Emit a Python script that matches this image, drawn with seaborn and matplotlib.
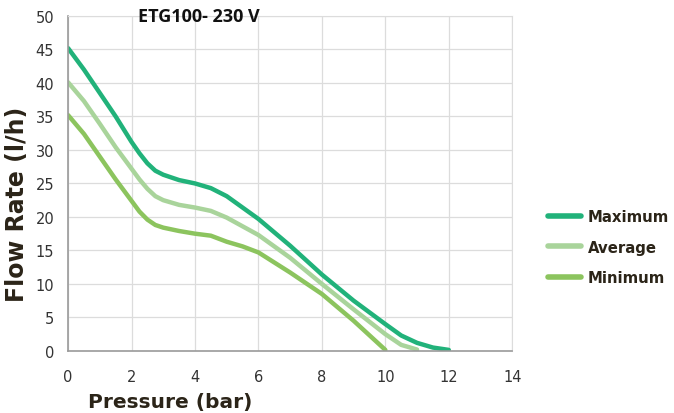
import pandas as pd
import numpy as np
import matplotlib.pyplot as plt
import seaborn as sns

# curve readings from the chart (pressure in bar, flow in l/h)
max_p = [0, 0.5, 1, 1.5, 2, 2.25, 2.5, 2.75, 3, 3.5, 4, 4.5, 5, 5.5, 6,
         7, 8, 9, 10, 10.5, 11, 11.5, 12]
max_q = [45.2, 42.0, 38.5, 35.0, 31.2, 29.5, 28.0, 26.9, 26.3, 25.5, 25.0, 24.3, 23.1, 21.4, 19.7,
         15.7, 11.4, 7.5, 4.0, 2.3, 1.2, 0.5, 0.15]

avg_p = [0, 0.5, 1, 1.5, 2, 2.25, 2.5, 2.75, 3, 3.5, 4, 4.5, 5, 5.5, 6,
         7, 8, 9, 10, 10.5, 11]
avg_q = [40.1, 37.3, 33.9, 30.4, 27.2, 25.6, 24.2, 23.1, 22.5, 21.8, 21.4, 20.9, 19.9, 18.6, 17.3,
         13.9, 10.0, 6.2, 2.5, 0.9, 0.2]

min_p = [0, 0.5, 1, 1.5, 2, 2.25, 2.5, 2.75, 3, 3.5, 4, 4.5, 5, 5.5, 6,
         7, 8, 9, 10]
min_q = [35.2, 32.4, 29.0, 25.6, 22.4, 20.8, 19.6, 18.8, 18.4, 17.9, 17.5, 17.2, 16.3, 15.6, 14.7,
         11.7, 8.5, 4.5, 0.15]

series = ['Maximum', 'Average', 'Minimum']
colors = ['#21b27a', '#a9d49b', '#8cc45e']
x_ticks = [0, 2, 4, 6, 8, 10, 12, 14]
y_ticks = [0, 5, 10, 15, 20, 25, 30, 35, 40, 45, 50]

df = pd.concat([
    pd.DataFrame({'p': max_p, 'q': max_q, 'curve': 'Maximum'}),
    pd.DataFrame({'p': avg_p, 'q': avg_q, 'curve': 'Average'}),
    pd.DataFrame({'p': min_p, 'q': min_q, 'curve': 'Minimum'}),
])

sns.set_style('white')
fig = plt.figure(figsize=(6.74, 4.14), dpi=100)
ax = fig.add_axes([0.101, 0.15, 0.659, 0.809])

sns.lineplot(data=df, x='p', y='q', hue='curve', hue_order=series,
             palette=colors, linewidth=3.2, ax=ax, legend=True,
             solid_capstyle='round', solid_joinstyle='round')

ax.set_xlim(0, 14)
ax.set_ylim(0, 50)
ax.set_xticks(x_ticks)
ax.set_yticks(y_ticks)
ax.grid(True, color='#dcdcdc', linewidth=0.9)
ax.set_axisbelow(True)
for s in ['top', 'right']:
    ax.spines[s].set_color('#dcdcdc')
for s in ['left', 'bottom']:
    ax.spines[s].set_color('#9a9a9a')
    ax.spines[s].set_linewidth(1.2)

ax.tick_params(axis='x', length=0, pad=13, labelsize=10.5, labelcolor='#333333')
ax.tick_params(axis='y', length=0, pad=10, labelsize=10.5, labelcolor='#333333')

ax.set_xlabel('Pressure (bar)', fontsize=14.5, fontweight='heavy', color='#2b2418')
ax.set_ylabel('Flow Rate (l/h)', fontsize=17, fontweight='heavy', color='#2b2418')
ax.xaxis.label.set_va('center')
ax.yaxis.label.set_va('center')
ax.xaxis.set_label_coords(0.23, -0.15)
ax.yaxis.set_label_coords(-0.115, 0.44)

fig.text(0.205, 0.958, 'ETG100- 230 V', fontsize=13, fontweight='bold',
         family=['Liberation Sans Narrow', 'Open Sans'], color='#111111', va='center')

leg = ax.legend(loc='center left', bbox_to_anchor=(1.05, 0.31), frameon=False,
                handlelength=2.2, handletextpad=0.5, labelspacing=1.05, fontsize=10.7)
for t in leg.get_texts():
    t.set_fontweight('heavy')
    t.set_color('#2b2418')
for h in leg.get_lines():
    h.set_linewidth(4)

fig.savefig('out.png', dpi=100)
